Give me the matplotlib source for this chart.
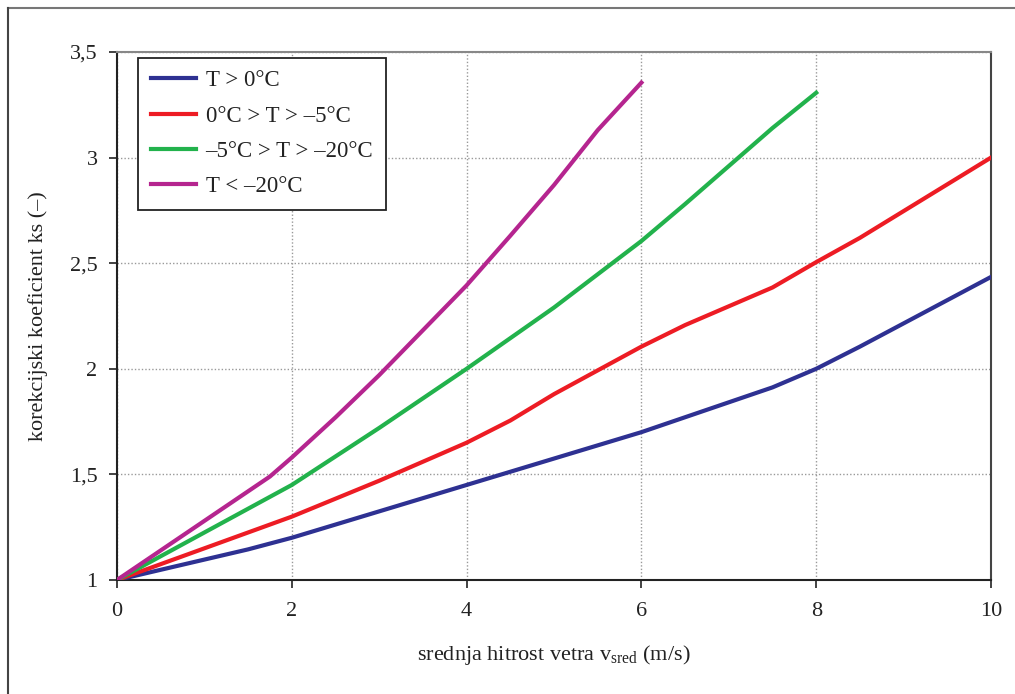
import matplotlib
matplotlib.use("Agg")
import matplotlib.pyplot as plt
from matplotlib.lines import Line2D

plt.rcParams['font.family'] = ['Liberation Serif', 'DejaVu Serif']
plt.rcParams['mathtext.default'] = 'regular'

# Data
x_blue = [0, 1.5, 2, 4, 6, 7.5, 8, 8.5, 10]
y_blue = [1.0, 1.145, 1.2, 1.45, 1.70, 1.912, 2.0, 2.105, 2.435]

x_red = [0, 2, 3, 4, 4.5, 5, 6, 6.5, 7.5, 8, 8.5, 10]
y_red = [1.0, 1.30, 1.47, 1.65, 1.755, 1.88, 2.105, 2.207, 2.385, 2.505, 2.62, 3.0]

x_green = [0, 2, 3, 4, 5, 6, 6.5, 7, 7.5, 8]
y_green = [1.0, 1.45, 1.72, 2.0, 2.29, 2.605, 2.78, 2.96, 3.14, 3.307]

x_mag = [0, 1.75, 2, 2.5, 3, 4, 4.5, 5, 5.5, 6]
y_mag = [1.0, 1.49, 1.58, 1.77, 1.97, 2.395, 2.63, 2.87, 3.13, 3.355]

labels = ['T > 0°C', '0°C > T > –5°C', '–5°C > T > –20°C', 'T < –20°C']
colors = ['#2e3192', '#ed1c24', '#22b24c', '#b5258f']

xticks = [0, 2, 4, 6, 8, 10]
yticks = [1, 1.5, 2, 2.5, 3, 3.5]
yticklabels = ['1', '1,5', '2', '2,5', '3', '3,5']

fig = plt.figure(figsize=(10.15, 6.94), dpi=100)
ax = fig.add_axes([117/1015, 1 - 580/694, (991-117)/1015, (580-52)/694])

series = [(x_blue, y_blue), (x_red, y_red), (x_green, y_green), (x_mag, y_mag)]
for (xs, ys), c, lab in zip(series, colors, labels):
    ax.plot(xs, ys, color=c, lw=3.0, label=lab, solid_joinstyle='round', zorder=3)

ax.set_xlim(0, 10)
ax.set_ylim(1, 3.5)
ax.set_xticks(xticks)
ax.set_xticklabels([str(t) for t in xticks])
ax.set_yticks(yticks)
ax.set_yticklabels(yticklabels)

ax.grid(True, color='#999999', linestyle=(0, (1, 1.5)), linewidth=1.0)
ax.set_axisbelow(True)

for side in ['left', 'bottom']:
    ax.spines[side].set_color('#222222')
    ax.spines[side].set_linewidth(1.5)
ax.spines['right'].set_color('#444444')
ax.spines['right'].set_linewidth(1.5)
ax.spines['top'].set_color('#888888')
ax.spines['top'].set_linewidth(1.5)

ax.tick_params(axis='both', direction='out', length=6, width=1.2, color='#222222',
               labelsize=16, labelcolor='#222222')
ax.tick_params(axis='x', pad=10)
ax.tick_params(axis='y', pad=8)
ax.tick_params(axis='x', which='both', top=False)
ax.tick_params(axis='y', which='both', right=False)

ax.set_xlabel('srednja hitrost vetra v$_{sred}$ (m/s)', fontsize=16, color='#222222', labelpad=16)
ax.set_ylabel('korekcijski koeficient ks (–)', fontsize=16, color='#222222', labelpad=16)

handles = [Line2D([0], [0], color=c, lw=3.0) for c in colors]
leg = ax.legend(handles, labels, loc='upper left', bbox_to_anchor=(0.024, 0.989),
                fontsize=16.5, frameon=True, fancybox=False, shadow=False,
                handlelength=2.0, handletextpad=0.4, labelspacing=0.62,
                borderpad=0.55, borderaxespad=0.0)
leg.get_frame().set_edgecolor('#222222')
leg.get_frame().set_linewidth(1.3)
leg.get_frame().set_alpha(1.0)
for t in leg.get_texts():
    t.set_color('#222222')

# figure border (top and left edges)
fig.add_artist(Line2D([8/1015, 1.0], [1 - 8/694, 1 - 8/694], transform=fig.transFigure,
                      color='#777777', lw=1.5))
fig.add_artist(Line2D([8/1015, 8/1015], [0.0, 1 - 8/694], transform=fig.transFigure,
                      color='#444444', lw=1.5))

fig.savefig('out.png', dpi=100)
